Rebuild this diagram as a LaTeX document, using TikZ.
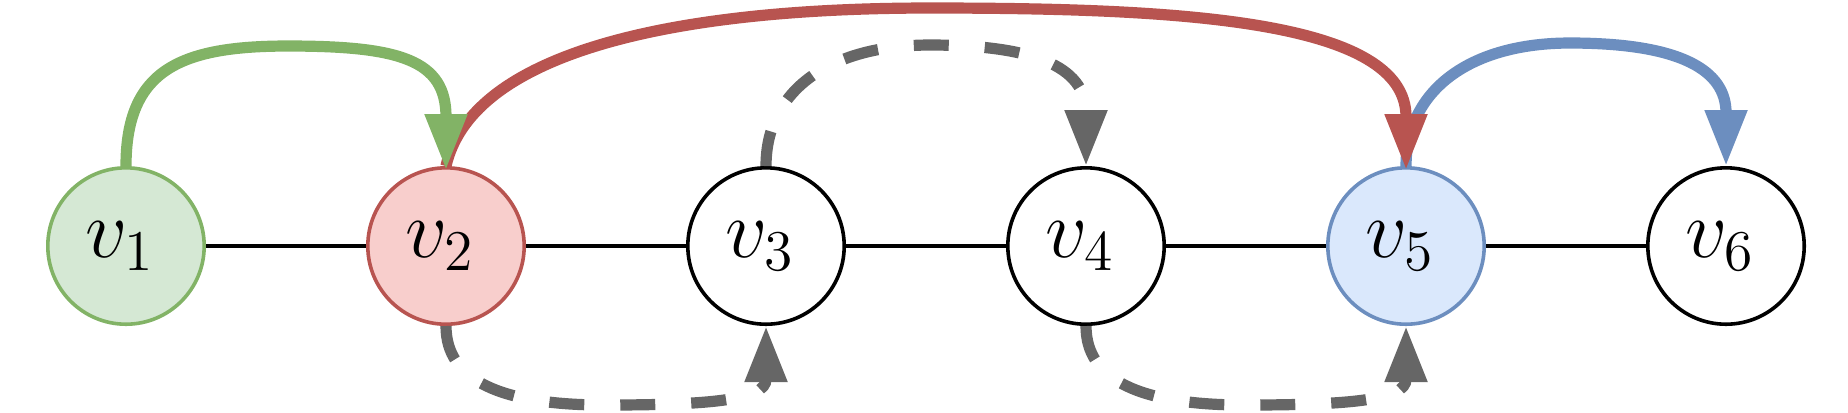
\documentclass[tikz,border=0pt]{standalone}
\usetikzlibrary{arrows.meta}
\definecolor{gfill}{HTML}{D5E8D4}
\definecolor{gline}{HTML}{82B366}
\definecolor{rfill}{HTML}{F8CECC}
\definecolor{rline}{HTML}{B85450}
\definecolor{bfill}{HTML}{DAE8FC}
\definecolor{bline}{HTML}{6C8EBF}
\definecolor{dgray}{HTML}{666666}
\begin{document}
\begin{tikzpicture}[x=0.25pt,y=-0.25pt,
  vertex/.style={circle,draw,line width=0.9pt,minimum size=39.1pt,inner sep=0pt,
    font=\fontsize{22}{26}\selectfont},
  link/.style={line width=0.85pt},
  arc/.style={line width=2.8pt,-{Triangle[length=14pt,width=10pt]}},
  dasharc/.style={arc,draw=dgray,dash pattern=on 8.75pt off 9pt}]
\useasboundingbox (0,0) rectangle (1848,412);
\node[vertex,draw=gline,fill=gfill] (v1) at (126,246) {$v_1$\hspace*{3pt}};
\node[vertex,draw=rline,fill=rfill] (v2) at (446,246) {$v_2$\hspace*{3pt}};
\node[vertex] (v3) at (766,246) {$v_3$\hspace*{3pt}};
\node[vertex] (v4) at (1086,246) {$v_4$\hspace*{3pt}};
\node[vertex,draw=bline,fill=bfill] (v5) at (1406,246) {$v_5$\hspace*{3pt}};
\node[vertex] (v6) at (1726,246) {$v_6$\hspace*{3pt}};
\draw[link] (v1) -- (v2);
\draw[link] (v2) -- (v3);
\draw[link] (v3) -- (v4);
\draw[link] (v4) -- (v5);
\draw[link] (v5) -- (v6);
% dashed gray arcs
\draw[dasharc] (v3.north) .. controls (766,90) and (830,45) .. (930,45)
  .. controls (1030,45) and (1086,65) .. (v4.north);
\draw[dasharc] (v2.south) .. controls (446,380) and (500,405) .. (605,405)
  .. controls (710,405) and (766,400) .. (v3.south);
\draw[dasharc] (v4.south) .. controls (1086,380) and (1140,405) .. (1245,405)
  .. controls (1350,405) and (1406,400) .. (v5.south);
% blue
\draw[arc,draw=bline] (v5.north) .. controls (1406,90) and (1470,43) .. (1570,43)
  .. controls (1680,43) and (1726,70) .. (v6.north);
% red
\draw[arc,draw=rline,shorten >=-1pt] (v2.north) .. controls (470,60) and (650,8) .. (930,8)
  .. controls (1180,8) and (1406,20) .. (v5.north);
% green
\draw[arc,draw=gline,shorten >=-1pt] (v1.north) .. controls (126,70) and (180,46) .. (288,46)
  .. controls (400,46) and (446,60) .. (v2.north);
\end{tikzpicture}
\end{document}
